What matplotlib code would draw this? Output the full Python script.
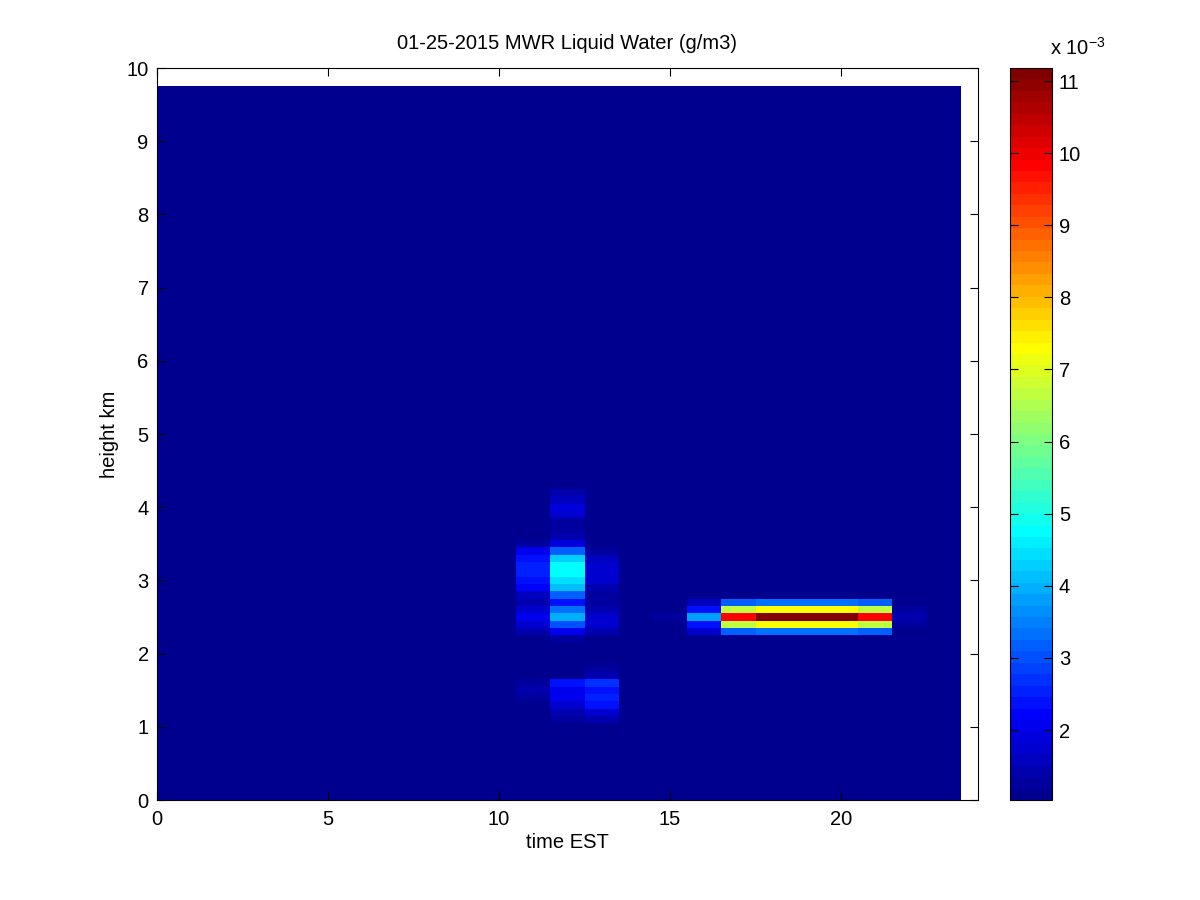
import numpy as np
import matplotlib
matplotlib.use("Agg")
import matplotlib.pyplot as plt
from matplotlib.colors import LinearSegmentedColormap

plt.rcParams['font.family'] = ['Liberation Sans', 'DejaVu Sans']

# grid: hourly columns, 0.1 km height rows
hours = np.arange(0, 24)
heights = np.round(np.arange(0, 9.75, 0.1), 2)
background = 1.03  # x 1e-3 g/m3

# midday cloud (heights top -> bottom, columns for hours 11, 12, 13)
noon_hours = [11, 12, 13]
noon_heights = [4.2, 4.1, 4.0, 3.9, 3.8, 3.7, 3.6, 3.5, 3.4, 3.3, 3.2, 3.1, 3.0, 2.9,
                2.8, 2.7, 2.6, 2.5, 2.4, 2.3, 2.2,
                1.8, 1.7, 1.6, 1.5, 1.4, 1.3, 1.2, 1.1]
noon_values = [
    [1.03, 1.4, 1.03],
    [1.03, 1.6, 1.03],
    [1.03, 1.9, 1.03],
    [1.03, 1.7, 1.03],
    [1.03, 1.3, 1.03],
    [1.03, 1.3, 1.03],
    [1.1, 1.5, 1.03],
    [1.2, 1.9, 1.1],
    [2.0, 3.2, 1.3],
    [2.4, 4.3, 1.6],
    [2.5, 4.7, 1.7],
    [2.5, 4.7, 1.7],
    [2.4, 4.4, 1.7],
    [2.2, 4.2, 1.5],
    [1.6, 3.2, 1.3],
    [1.4, 2.3, 1.2],
    [1.8, 3.3, 1.5],
    [2.1, 4.0, 1.8],
    [1.8, 3.0, 1.7],
    [1.4, 2.0, 1.4],
    [1.1, 1.3, 1.1],
    [1.03, 1.03, 1.3],
    [1.1, 1.1, 1.4],
    [1.3, 2.3, 2.7],
    [1.4, 2.1, 2.3],
    [1.3, 2.0, 2.6],
    [1.1, 1.7, 2.4],
    [1.03, 1.4, 1.8],
    [1.03, 1.2, 1.4],
]

# evening layer at ~2.5 km (columns for hours 15..22)
eve_hours = [15, 16, 17, 18, 19, 20, 21, 22]
eve_heights = [2.7, 2.6, 2.5, 2.4, 2.3, 2.2]
eve_values = [
    [1.03, 1.6, 3.2, 3.3, 3.3, 3.3, 3.1, 1.03],
    [1.1, 2.4, 6.6, 7.35, 7.35, 7.35, 6.6, 1.2],
    [1.3, 3.8, 9.9, 11.18, 11.18, 11.18, 9.9, 1.5],
    [1.1, 2.4, 6.6, 7.35, 7.35, 7.35, 6.6, 1.2],
    [1.03, 1.7, 3.2, 3.3, 3.3, 3.3, 3.1, 1.03],
    [1.03, 1.1, 1.1, 1.1, 1.1, 1.1, 1.1, 1.03],
]

lwc = np.full((len(heights), len(hours)), background)
for hgt, row in zip(noon_heights, noon_values):
    r = int(np.argmin(np.abs(heights - hgt)))
    for hr, v in zip(noon_hours, row):
        lwc[r, hr] = v
for hgt, row in zip(eve_heights, eve_values):
    r = int(np.argmin(np.abs(heights - hgt)))
    for hr, v in zip(eve_hours, row):
        lwc[r, hr] = v

# matlab style jet, 64 levels
jet_ml = LinearSegmentedColormap.from_list(
    "jet_ml",
    [(0, (0, 0, 0.5625)), (7 / 63, (0, 0, 1)), (23 / 63, (0, 1, 1)),
     (39 / 63, (1, 1, 0)), (55 / 63, (1, 0, 0)), (1, (0.5, 0, 0))],
    N=64)

fs = 14.5

fig = plt.figure(figsize=(12, 9), dpi=100)
ax = fig.add_axes([0.1308, 0.1111, 0.6842, 0.8133])
cax = fig.add_axes([0.8417, 0.1111, 0.035, 0.8133])

x_edges = np.append(hours - 0.5, hours[-1] + 0.5)
y_edges = np.append(heights - 0.05, heights[-1] + 0.05)
mesh = ax.pcolormesh(x_edges, y_edges, lwc, cmap=jet_ml,
                     vmin=lwc.min(), vmax=lwc.max(), shading="flat")

ax.set_xlim(0, 24)
ax.set_ylim(0, 10)
ax.set_xticks([0, 5, 10, 15, 20])
ax.set_yticks(range(0, 11))
ax.tick_params(direction="in", top=True, right=True, length=5.5,
               labelsize=fs, width=0.8)
ax.tick_params(axis="x", pad=7)
ax.tick_params(axis="y", pad=6)
for s in ax.spines.values():
    s.set_linewidth(0.8)
ax.set_title("01-25-2015 MWR Liquid Water (g/m3)", fontsize=fs, pad=14)
ax.set_xlabel("time EST", fontsize=fs, labelpad=3)
ax.set_ylabel("height km", fontsize=fs, labelpad=5)

cb = fig.colorbar(mesh, cax=cax)
cb.set_ticks(range(2, 12))
cb.ax.tick_params(direction="in", left=True, right=True, length=5.5,
                  labelsize=fs, width=0.8, pad=5)
cb.outline.set_linewidth(0.8)
cax.text(0.95, 1.012, r"x 10$^{\mathregular{-3}}$", transform=cax.transAxes,
         fontsize=fs, ha="left", va="bottom")

fig.savefig("out.png", dpi=100)
